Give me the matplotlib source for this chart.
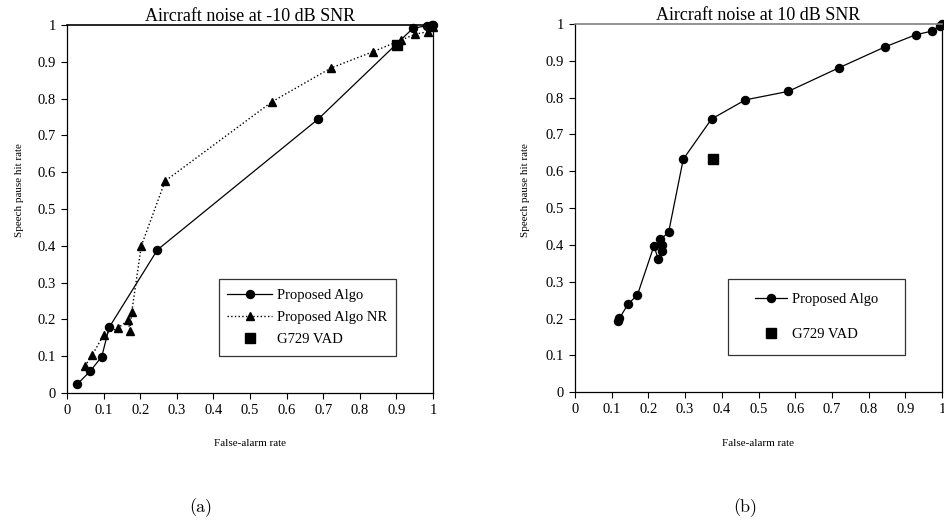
import matplotlib
matplotlib.use("Agg")
import matplotlib.pyplot as plt
from matplotlib.patches import Rectangle
from matplotlib.lines import Line2D

plt.rcParams['font.family'] = ['Liberation Serif', 'DejaVu Serif']

# ---- Panel (a): aircraft noise at -10 dB SNR ----
a_algo_far = [0.028, 0.064, 0.095, 0.115, 0.247, 0.687, 0.945, 0.983, 0.996, 1.0]
a_algo_hit = [0.024, 0.060, 0.099, 0.178, 0.389, 0.745, 0.991, 0.998, 1.0, 1.0]

a_nr_far = [0.049, 0.069, 0.100, 0.138, 0.167, 0.172, 0.177, 0.203, 0.268,
            0.561, 0.721, 0.835, 0.913, 0.951, 0.987, 1.0]
a_nr_hit = [0.073, 0.103, 0.158, 0.176, 0.197, 0.168, 0.221, 0.400, 0.576,
            0.792, 0.883, 0.927, 0.959, 0.975, 0.982, 0.995]

a_g729_far = [0.901]
a_g729_hit = [0.946]

# ---- Panel (b): aircraft noise at 10 dB SNR ----
b_algo_far = [0.116, 0.121, 0.145, 0.170, 0.215, 0.227, 0.236, 0.238, 0.232,
              0.255, 0.295, 0.372, 0.464, 0.581, 0.719, 0.845, 0.929, 0.974,
              0.994, 1.0]
b_algo_hit = [0.194, 0.201, 0.240, 0.264, 0.397, 0.362, 0.385, 0.400, 0.415,
              0.434, 0.633, 0.742, 0.794, 0.817, 0.881, 0.938, 0.971, 0.981,
              0.995, 1.0]

b_g729_far = [0.375]
b_g729_hit = [0.634]

ticks = [i / 10 for i in range(11)]
tick_labels = ['0'] + ['%.1f' % t for t in ticks[1:-1]] + ['1']

fig = plt.figure(figsize=(9.44, 5.23), dpi=100)
ax_a = fig.add_axes([0.0710, 0.2486, 0.3877, 0.7036])
ax_b = fig.add_axes([0.6091, 0.2499, 0.3888, 0.7042])

circle_kw = dict(color='black', marker='o', markersize=5.8, linewidth=0.9,
                 clip_on=False)
square_kw = dict(color='black', marker='s', markersize=7.5, linestyle='none',
                 clip_on=False, zorder=5)


def style_axes(ax, title, top_color):
    ax.set_xlim(0, 1)
    ax.set_ylim(0, 1)
    ax.set_xticks(ticks)
    ax.set_yticks(ticks)
    ax.set_xticklabels(tick_labels)
    ax.set_yticklabels(tick_labels)
    ax.tick_params(direction='out', length=4, width=0.8, labelsize=10.5,
                   top=False, right=False, pad=4)
    for side in ('left', 'bottom', 'right'):
        ax.spines[side].set_color('black')
        ax.spines[side].set_linewidth(0.9)
    ax.spines['top'].set_color(top_color)
    ax.spines['top'].set_linewidth(1.2)
    ax.set_title(title, fontsize=13, pad=1)


def framed_legend(ax, handles, labels, box, spacing, hlen):
    x0, y0, x1, y1 = box
    ax.add_patch(Rectangle((x0, y0), x1 - x0, y1 - y0, transform=ax.transAxes,
                           fill=False, edgecolor='#333333', linewidth=0.9,
                           zorder=6))
    ax.legend(handles, labels, loc='center',
              bbox_to_anchor=((x0 + x1) / 2, (y0 + y1) / 2),
              frameon=False, fontsize=10.5, numpoints=1,
              handlelength=hlen, handletextpad=0.35, labelspacing=spacing,
              borderpad=0.2)


# Panel (a)
ax_a.plot(a_algo_far, a_algo_hit, linestyle='-', **circle_kw)
ax_a.plot(a_nr_far, a_nr_hit, color='black', marker='^', markersize=6,
          linestyle=':', linewidth=1.0, clip_on=False)
ax_a.plot(a_g729_far, a_g729_hit, **square_kw)
style_axes(ax_a, 'Aircraft noise at -10 dB SNR', 'black')

h_algo = Line2D([], [], color='black', marker='o', markersize=5.8,
                linewidth=0.9)
h_nr = Line2D([], [], color='black', marker='^', markersize=6,
              linestyle=':', linewidth=1.0)
h_g729 = Line2D([], [], color='black', marker='s', markersize=7.5,
                linestyle='none')
framed_legend(ax_a, [h_algo, h_nr, h_g729],
              ['Proposed Algo', 'Proposed Algo NR', 'G729 VAD'],
              (0.415, 0.101, 0.898, 0.309), 0.6, 3.1)

# Panel (b)
ax_b.plot(b_algo_far, b_algo_hit, linestyle='-', **circle_kw)
ax_b.plot(b_g729_far, b_g729_hit, **square_kw)
style_axes(ax_b, 'Aircraft noise at 10 dB SNR', '#808080')

h_algo_b = Line2D([], [], color='black', marker='o', markersize=5.8,
                  linewidth=0.9)
framed_legend(ax_b, [h_algo_b, h_g729], ['Proposed Algo', 'G729 VAD'],
              (0.418, 0.101, 0.900, 0.307), 1.5, 2.2)

# Axis labels and panel captions
W, H = 944, 523
for x_px in (20, 526):
    fig.text(x_px / W, 1 - 190 / H, 'Speech pause hit rate', rotation=90,
             ha='center', va='center', fontsize=8)
for x_px in (250, 758):
    fig.text(x_px / W, 1 - 444 / H, 'False-alarm rate', ha='center',
             va='center', fontsize=8)
fig.text(201 / W, 1 - 508 / H, '(a)', ha='center', va='center', fontsize=13,
         family=['cmr10', 'DejaVu Serif'])
fig.text(745 / W, 1 - 508 / H, '(b)', ha='center', va='center', fontsize=13,
         family=['cmr10', 'DejaVu Serif'])

fig.savefig('out.png', dpi=100)
